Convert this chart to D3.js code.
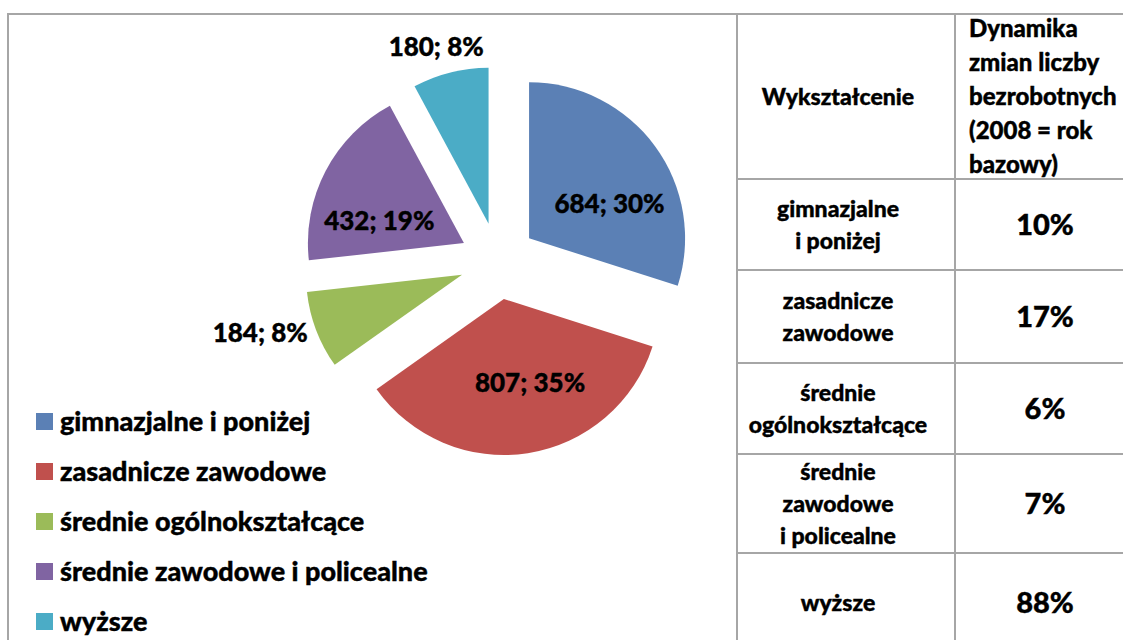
<!DOCTYPE html>
<html lang="pl">
<head>
    <meta charset="UTF-8">
    <title>Bezrobotni wg wykształcenia</title>
    <style>
        body { margin: 0; background: #fff; }
        text { font-family: Lato, "Open Sans", sans-serif; font-weight: 900; fill: #000; stroke: #000; stroke-width: 0.4px; }
    </style>
</head>
<body>
<script src="https://d3js.org/d3.v7.min.js"></script>
<script>
    // data
    const categories = ["gimnazjalne i poniżej", "zasadnicze zawodowe", "średnie ogólnokształcące",
        "średnie zawodowe i policealne", "wyższe"];
    const counts = [684, 807, 184, 432, 180];
    const colors = ["#5b80b5", "#c0504d", "#9bbb59", "#8064a2", "#4bacc6"];

    // table on the right
    const headCol1 = "Wykształcenie";
    const headCol2 = ["Dynamika", "zmian liczby", "bezrobotnych", "(2008 = rok", "bazowy)"];
    const rowLabels = [["gimnazjalne", "i poniżej"], ["zasadnicze", "zawodowe"], ["średnie", "ogólnokształcące"],
        ["średnie", "zawodowe", "i policealne"], ["wyższe"]];
    const dynamics = ["10%", "17%", "6%", "7%", "88%"];

    const width = 1123, height = 640;
    const gridColor = "#a6a6a6";

    const svg = d3.select("body")
        .append("svg")
        .attr("width", width)
        .attr("height", height);

    // ---- pie ----
    const cx = 498, cy = 261, radius = 156, explode = 38.5;
    const total = d3.sum(counts);
    const pct = v => Math.round(v / total * 100) + "%";
    const labelTurn = [0.23, -0.15, 0, -0.23, 0];   // nudges for inside labels (radians)

    const arcs = d3.pie().sort(null).value(d => d)(counts);
    const arc = d3.arc().innerRadius(0).outerRadius(radius);
    const mid = d => (d.startAngle + d.endAngle) / 2;

    const pieG = svg.append("g").attr("transform", `translate(${cx},${cy})`);

    const slice = pieG.selectAll("g.slice")
        .data(arcs)
        .enter()
        .append("g")
        .attr("class", "slice")
        .attr("transform", d => `translate(${Math.sin(mid(d)) * explode},${-Math.cos(mid(d)) * explode})`);

    slice.append("path")
        .attr("d", arc)
        .attr("fill", (d, i) => colors[i]);

    slice.append("text")
        .attr("font-size", 26)
        .attr("transform", (d, i) => {
            const a = mid(d);
            if (d.value / total >= 0.1) {
                const r = radius * 0.56, t = a + labelTurn[i];
                return `translate(${Math.sin(t) * r},${-Math.cos(t) * r})`;
            }
            const r = radius + 9;
            return `translate(${Math.sin(a) * r},${-Math.cos(a) * r})`;
        })
        .attr("text-anchor", d => {
            if (d.value / total >= 0.1) return "middle";
            const s = Math.sin(mid(d));
            return s < -0.5 ? "end" : s > 0.5 ? "start" : "middle";
        })
        .attr("dy", d => {
            if (d.value / total >= 0.1) return "0.35em";
            const c = Math.cos(mid(d));
            return c > 0.5 ? "-0.3em" : c < -0.5 ? "1em" : "0.35em";
        })
        .attr("dx", d => (d.value / total < 0.1 && Math.abs(Math.sin(mid(d))) <= 0.5) ? -12 : 0)
        .text(d => `${d.value}; ${pct(d.value)}`);

    // ---- legend ----
    const legend = svg.append("g").attr("transform", "translate(36,413)");
    const item = legend.selectAll("g")
        .data(categories)
        .enter()
        .append("g")
        .attr("transform", (d, i) => `translate(0,${i * 50})`);
    item.append("rect")
        .attr("width", 17).attr("height", 17)
        .attr("fill", (d, i) => colors[i]);
    item.append("text")
        .attr("x", 24).attr("y", 18)
        .attr("font-size", 27)
        .text(d => d);

    // ---- frame and table grid ----
    const colX = [737, 955];
    const rowY = [14, 179, 270, 363, 454, 553, 653];

    const grid = svg.append("g")
        .attr("stroke", gridColor)
        .attr("stroke-width", 2);
    grid.append("line").attr("x1", 7).attr("x2", width).attr("y1", 14).attr("y2", 14);
    grid.append("line").attr("x1", 8).attr("x2", 8).attr("y1", 13).attr("y2", height);
    grid.selectAll("line.col")
        .data(colX)
        .enter()
        .append("line")
        .attr("class", "col")
        .attr("x1", d => d).attr("x2", d => d)
        .attr("y1", 13).attr("y2", height);
    grid.selectAll("line.row")
        .data(rowY.slice(1, -1))
        .enter()
        .append("line")
        .attr("class", "row")
        .attr("x1", colX[0]).attr("x2", width)
        .attr("y1", d => d).attr("y2", d => d);

    const c1 = (colX[0] + colX[1]) / 2 - 8;
    const c2 = 1045;

    svg.append("text")
        .attr("x", c1).attr("y", 97)
        .attr("dy", "0.35em")
        .attr("text-anchor", "middle")
        .attr("font-size", 23)
        .text(headCol1);

    svg.append("g").selectAll("text")
        .data(headCol2)
        .enter()
        .append("text")
        .attr("x", 969)
        .attr("y", (d, i) => 29 + i * 34)
        .attr("dy", "0.35em")
        .attr("font-size", 24)
        .text(d => d);

    const row = svg.append("g").selectAll("g")
        .data(rowLabels)
        .enter()
        .append("g")
        .attr("transform", (d, i) => `translate(0,${(rowY[i + 1] + rowY[i + 2]) / 2})`);

    row.selectAll("text")
        .data(d => d)
        .enter()
        .append("text")
        .attr("x", c1)
        .attr("y", (d, i, n) => (i - (n.length - 1) / 2) * 32)
        .attr("dy", "0.35em")
        .attr("text-anchor", "middle")
        .attr("font-size", 23)
        .text(d => d);

    row.append("text")
        .attr("x", c2)
        .attr("y", 0)
        .attr("dy", "0.35em")
        .attr("text-anchor", "middle")
        .attr("font-size", 29)
        .text((d, i) => dynamics[i]);
</script>
</body>
</html>
